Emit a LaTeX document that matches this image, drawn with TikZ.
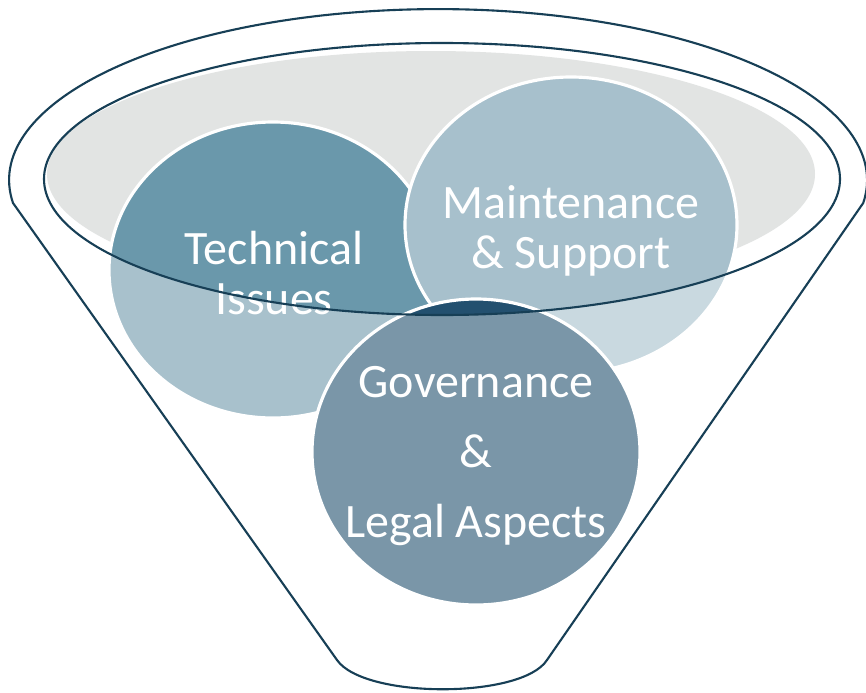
\documentclass[tikz,border=0pt]{standalone}
\usepackage{fontspec}
\setmainfont{Carlito}

\definecolor{rimnavy}{HTML}{173F56}
\definecolor{funnelgray}{HTML}{E2E4E3}
\definecolor{techlight}{HTML}{A8C1CC}
\definecolor{techdark}{HTML}{6A98AB}
\definecolor{maintlight}{HTML}{C9D9E0}
\definecolor{maintdark}{HTML}{A7C0CC}
\definecolor{govlight}{HTML}{7A96A8}
\definecolor{govdark}{HTML}{23506F}

\tikzset{
  rimline/.style={draw=rimnavy, line width=1.2pt},
  bubbleedge/.style={draw=white, line width=1.8pt},
  bubbletext/.style={text=white, align=center, font=\fontsize{27.3}{28.5}\selectfont},
}

\begin{document}
\begin{tikzpicture}[x=0.02cm, y=-0.02cm]
\useasboundingbox (0,0) rectangle (866,693);

% Funnel body
\draw[rimline, fill=white]
    (13,203) arc[start angle=172.3, end angle=367.7, x radius=429, y radius=171]
    -- (547,660) .. controls (522,699) and (364,699) .. (337,660) -- cycle;

% Gray inside of the rim
\fill[funnelgray] (431,174) ellipse [x radius=384, y radius=123];

% Technical issues
\fill[techlight] (273,270) ellipse [x radius=164, y radius=148];
\begin{scope}
  \clip (442,179) ellipse [x radius=398, y radius=136];
  \fill[techdark] (273,270) ellipse [x radius=164, y radius=148];
\end{scope}
\draw[bubbleedge] (273,270) ellipse [x radius=164, y radius=148];

% Maintenance & support
\fill[maintlight] (571,225) ellipse [x radius=166, y radius=148];
\begin{scope}
  \clip (442,179) ellipse [x radius=398, y radius=136];
  \fill[maintdark] (571,225) ellipse [x radius=166, y radius=148];
\end{scope}
\draw[bubbleedge] (571,225) ellipse [x radius=166, y radius=148];

% Governance & legal aspects
\fill[govlight] (476,452) ellipse [x radius=164, y radius=153];
\begin{scope}
  \clip (442,179) ellipse [x radius=398, y radius=136];
  \fill[govdark] (476,452) ellipse [x radius=164, y radius=153];
\end{scope}
\draw[bubbleedge] (476,452) ellipse [x radius=164, y radius=153];

% Labels
\node[bubbletext] (tech) at (274,273) {Technical\\Issues};
\node[bubbletext] (maint) at (571,231) {Maintenance\\\& Support};
\node[bubbletext, font=\fontsize{27.3}{40}\selectfont] (gov) at (476,456) {Governance\\\&\\Legal Aspects};

% Rim on top
\draw[rimline] (442,179) ellipse [x radius=398, y radius=136];
\end{tikzpicture}
\end{document}
